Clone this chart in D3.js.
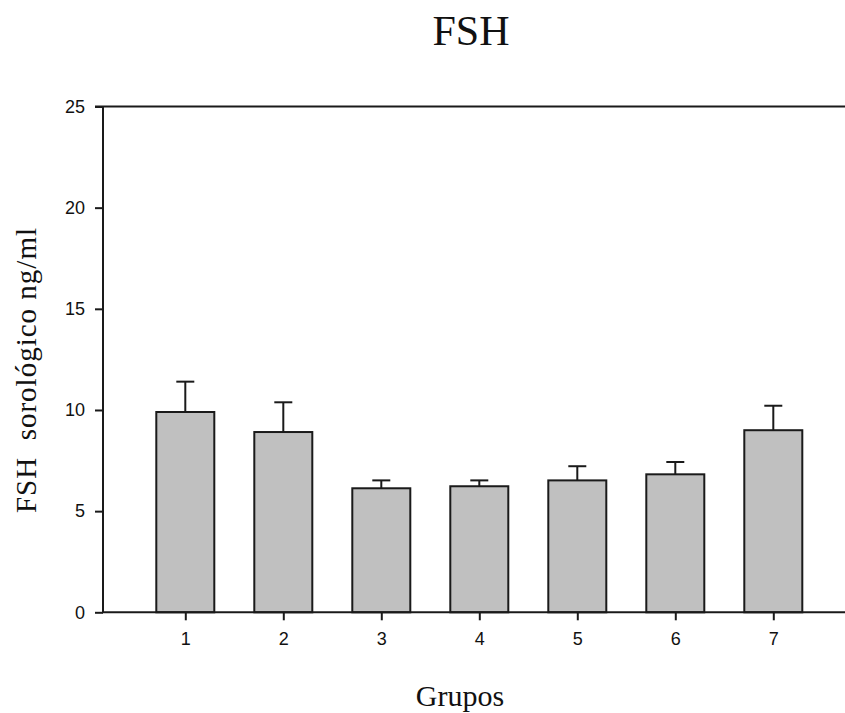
<!DOCTYPE html>
<html>
<head>
<meta charset="utf-8">
<script src="https://cdn.jsdelivr.net/npm/d3@7"></script>
<style>
  body { margin: 0; background: #fff; }
  svg { display: block; }
</style>
</head>
<body>
<svg id="chart" width="845" height="713"></svg>
<script>
var groups = [1, 2, 3, 4, 5, 6, 7];
var fshMean = [9.9, 8.91, 6.13, 6.23, 6.52, 6.82, 9.0];
var fshErr = [1.5, 1.47, 0.39, 0.29, 0.7, 0.61, 1.21];
var yTicks = [0, 5, 10, 15, 20, 25];

var svg = d3.select("#chart");

var plotLeft = 103, plotRight = 845, plotTop = 106.5, plotBottom = 612.3;

// group 1 sits at 185, groups are 98px apart
var x = d3.scaleLinear().domain([0, 8]).range([87.3, 871.3]);
var y = d3.scaleLinear().domain([0, 25]).range([plotBottom, plotTop]);
var barW = 58, capW = 18;

var ink = "#1a1a1a";

// bars
svg.selectAll("rect.bar")
    .data(groups)
    .enter().append("rect")
    .attr("class", "bar")
    .attr("x", function(d) { return x(d) - barW / 2; })
    .attr("y", function(d, i) { return y(fshMean[i]); })
    .attr("width", barW)
    .attr("height", function(d, i) { return plotBottom - y(fshMean[i]); })
    .attr("fill", "#c0c0c0")
    .attr("stroke", ink)
    .attr("stroke-width", 2);

// error bars (upper only)
var err = svg.selectAll("g.err")
    .data(groups)
    .enter().append("g")
    .attr("class", "err")
    .attr("stroke", ink)
    .attr("stroke-width", 2);

err.append("line")
    .attr("x1", function(d) { return x(d); })
    .attr("x2", function(d) { return x(d); })
    .attr("y1", function(d, i) { return y(fshMean[i]); })
    .attr("y2", function(d, i) { return y(fshMean[i] + fshErr[i]); });

err.append("line")
    .attr("x1", function(d) { return x(d) - capW / 2; })
    .attr("x2", function(d) { return x(d) + capW / 2; })
    .attr("y1", function(d, i) { return y(fshMean[i] + fshErr[i]); })
    .attr("y2", function(d, i) { return y(fshMean[i] + fshErr[i]); });

// axes
var yAxis = svg.append("g")
    .attr("transform", "translate(" + plotLeft + ",0)")
    .call(d3.axisLeft(y).tickValues(yTicks).tickSize(8).tickPadding(10).tickSizeOuter(0));
yAxis.select(".domain").remove();

var xAxis = svg.append("g")
    .attr("transform", "translate(0," + plotBottom + ")")
    .call(d3.axisBottom(x).tickValues(groups).tickSize(8).tickPadding(12).tickSizeOuter(0));
xAxis.select(".domain").remove();

[yAxis, xAxis].forEach(function(a) {
    a.attr("font-size", 18).attr("font-family", "Liberation Sans, Arial, sans-serif");
    a.selectAll("line").attr("stroke", ink).attr("stroke-width", 2);
    a.selectAll("text").attr("fill", "#111");
});

// frame lines: left, bottom, top
svg.append("line").attr("x1", plotLeft).attr("x2", plotLeft).attr("y1", plotTop).attr("y2", plotBottom)
    .attr("stroke", ink).attr("stroke-width", 2);
svg.append("line").attr("x1", plotLeft - 1).attr("x2", plotRight).attr("y1", plotBottom).attr("y2", plotBottom)
    .attr("stroke", ink).attr("stroke-width", 2);
svg.append("line").attr("x1", plotLeft - 8).attr("x2", plotRight).attr("y1", plotTop).attr("y2", plotTop)
    .attr("stroke", ink).attr("stroke-width", 2);

// titles
svg.append("text")
    .attr("x", 471).attr("y", 45)
    .attr("text-anchor", "middle")
    .attr("font-family", "Liberation Serif, Times New Roman, serif")
    .attr("font-size", 42)
    .attr("fill", "#111")
    .text("FSH");

svg.append("text")
    .attr("x", 460).attr("y", 706)
    .attr("text-anchor", "middle")
    .attr("font-family", "Liberation Serif, Times New Roman, serif")
    .attr("font-size", 30)
    .attr("fill", "#111")
    .text("Grupos");

svg.append("text")
    .attr("transform", "translate(36,370) rotate(-90)")
    .attr("text-anchor", "middle")
    .attr("font-family", "Liberation Serif, Times New Roman, serif")
    .attr("font-size", 29)
    .attr("letter-spacing", 1)
    .style("white-space", "pre")
    .attr("fill", "#111")
    .text("FSH  sorológico ng/ml");
</script>
</body>
</html>
